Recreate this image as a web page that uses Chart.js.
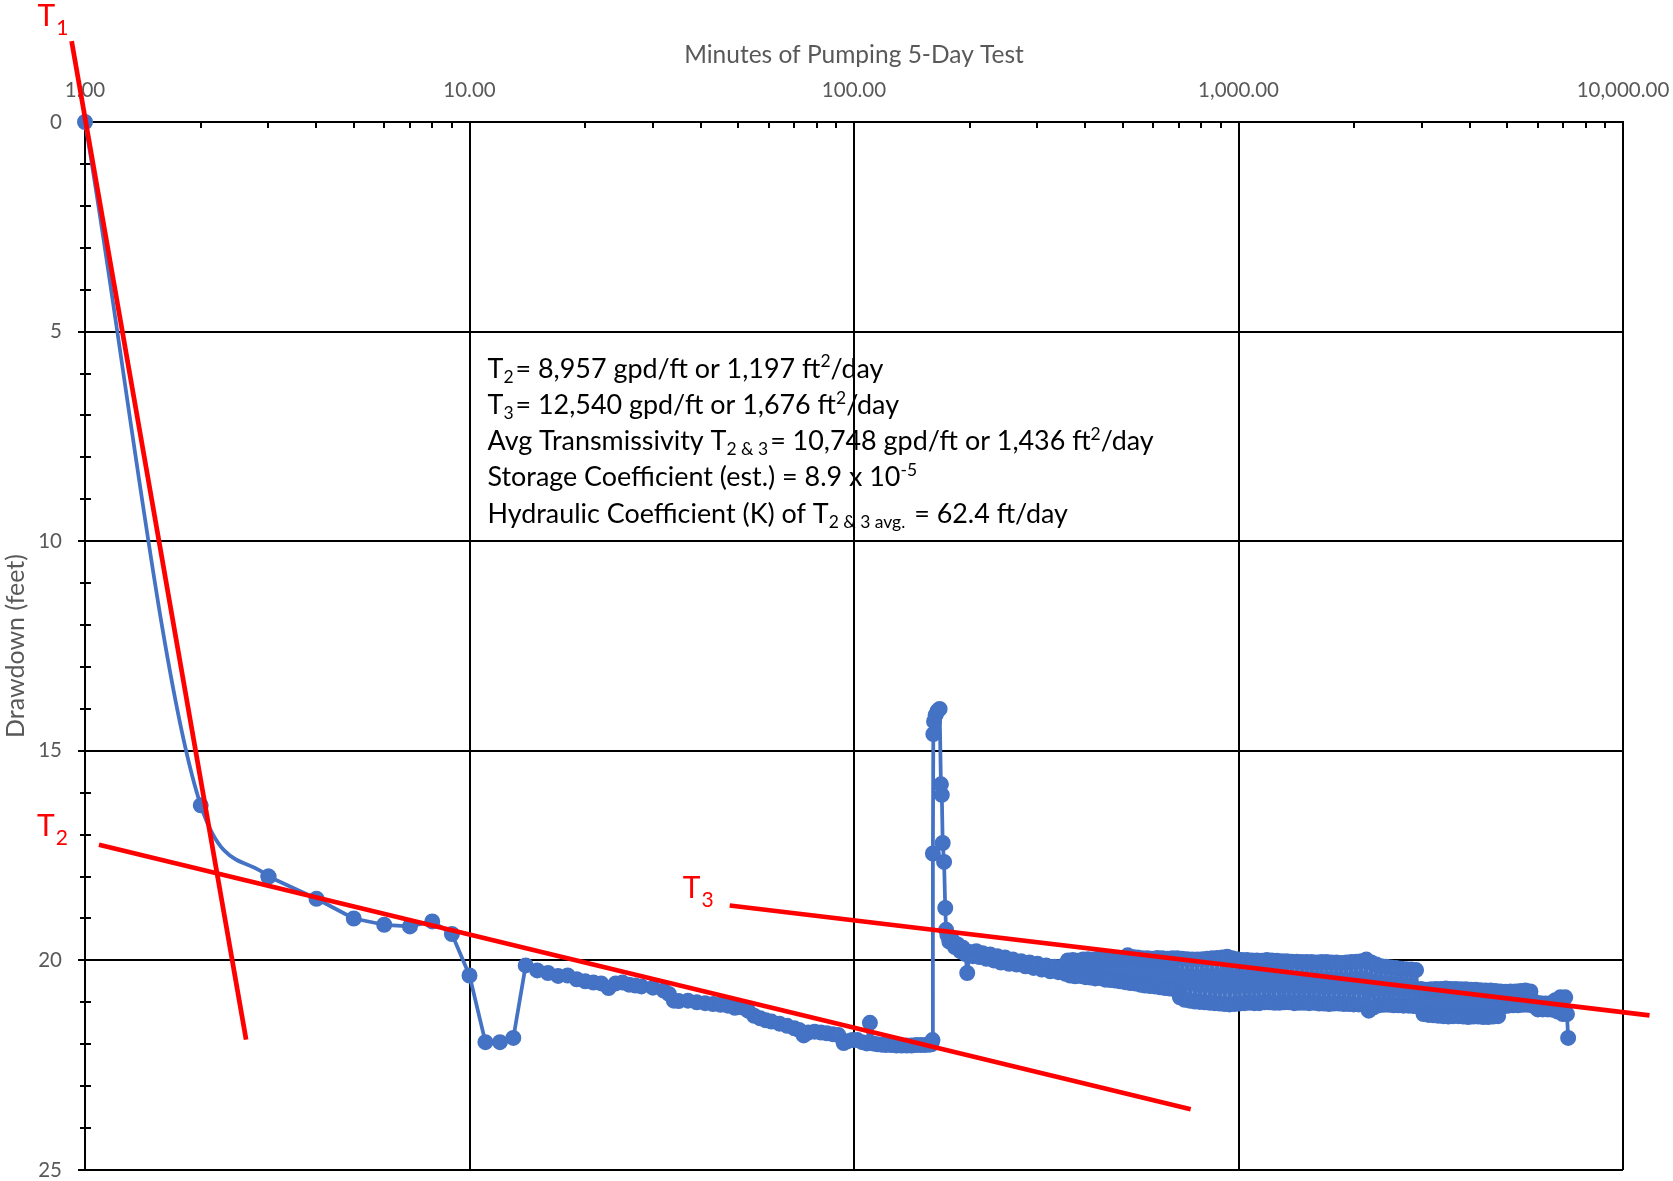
<!DOCTYPE html>
<html>
<head>
<meta charset="utf-8">
<title>Drawdown - 5-Day Pumping Test</title>
<script src="https://cdn.jsdelivr.net/npm/chart.js@4.4.1/dist/chart.umd.min.js"></script>
<style>
  html, body { margin: 0; padding: 0; background: #ffffff; }
  canvas { display: block; }
</style>
</head>
<body>
<canvas id="chart" width="1673" height="1181"></canvas>
<script>
// ---- Observed drawdown (feet) against minutes of pumping ----
const earlyMinutes  = [1, 2, 3, 4, 5, 6, 7, 8, 9, 10, 11, 12, 13];
const earlyDrawdown = [0, 16.3, 18.0, 18.53, 19.0, 19.15, 19.19, 19.07, 19.37, 20.36, 21.95, 21.95, 21.85];

const midMinutes = [
  14, 15, 16, 17, 18, 19, 20, 21, 22, 23, 24, 25, 26, 27, 28,
  30, 32, 33, 34, 35, 37, 39,
  41, 43, 45, 47, 49, 51, 53, 55, 57, 59, 61,
  64, 67, 70, 72, 74, 76, 79, 82, 85, 88, 91, 94, 96, 99,
  102, 105, 108, 110, 112, 115, 118, 121, 125, 129, 133, 137, 141, 145, 149, 153, 157, 159
];
const midDrawdown = [
  20.12, 20.24, 20.3, 20.37, 20.36, 20.45, 20.5, 20.53, 20.55, 20.66, 20.55, 20.53, 20.58, 20.6, 20.62,
  20.65, 20.72, 20.8, 20.96, 20.97, 20.96, 21.0,
  21.02, 21.04, 21.06, 21.08, 21.13, 21.12, 21.2, 21.32, 21.38, 21.43, 21.46,
  21.51, 21.56, 21.62, 21.66, 21.79, 21.72, 21.7, 21.72, 21.74, 21.76, 21.78, 21.97, 21.93, 21.9,
  21.9, 21.95, 21.98, 21.49, 21.98, 22.0, 22.01, 22.02, 22.02, 22.03, 22.03, 22.03, 22.03, 22.02, 22.02, 22.02, 22.01, 22.0
];

const surgeMinutes  = [160, 160.4, 160.8, 161.5, 163, 165, 167, 168.3, 169.2, 170.1, 171.5, 172.7, 173.6];
const surgeDrawdown = [21.9, 17.45, 14.6, 14.3, 14.15, 14.05, 14.0, 15.8, 16.05, 17.2, 17.65, 18.75, 19.27];

const lateMinutes = [
  175, 177, 180, 183, 186, 189, 192, 195, 197, 200,
  204, 208, 212, 216, 221, 226, 231, 236, 241, 247,
  253, 259, 265, 272, 279, 286, 293, 300, 308, 316,
  324, 332, 340, 348, 355,
  360, 365, 371, 376, 382, 388, 394, 400, 406, 412,
  418, 424, 431, 437, 444, 450, 457, 464, 471, 478,
  485, 492, 500, 507, 515, 523, 530, 538, 546, 555,
  563, 571, 580, 589, 597, 606, 615, 625, 634, 644,
  653, 663, 673, 683, 693, 704, 714, 725, 736, 747,
  758, 770, 781, 793, 805, 817, 829, 842, 854, 867,
  880, 893, 907, 920, 934, 948, 962, 977, 991, 1006,
  1021, 1037, 1052, 1068, 1084, 1100, 1117, 1133, 1150, 1168,
  1185, 1203, 1221, 1239, 1258, 1277, 1296, 1315, 1335, 1355,
  1375, 1396, 1417, 1438, 1460, 1481, 1504, 1526, 1549, 1572,
  1596, 1620, 1644, 1669, 1694, 1719, 1745, 1771, 1798, 1825,
  1852, 1880, 1908, 1937, 1966, 1995, 2025, 2056, 2086, 2118,
  2150, 2182, 2215, 2248, 2282, 2316, 2351, 2386, 2422, 2458,
  2495, 2532, 2570, 2609, 2648, 2688, 2728, 2769, 2811, 2853,
  2896, 2939, 2983, 3028, 3074, 3120, 3167, 3214, 3262, 3311,
  3361, 3411, 3463, 3515, 3567, 3621, 3675, 3730, 3786, 3843,
  3901, 3959, 4019, 4079, 4140, 4202, 4265, 4329, 4394, 4460,
  4527, 4595, 4664, 4734, 4805, 4877, 4950, 5024, 5100, 5176,
  5254, 5333, 5413, 5494, 5576, 5660, 5745, 5831, 5918, 6007,
  6097, 6189, 6282, 6376, 6472, 6569, 6667, 6767, 6869, 6972,
  7076, 7150, 7200
];
const lateDrawdown = [
  19.40, 19.55, 19.52, 19.68, 19.62, 19.78, 19.70, 19.85, 20.30, 19.80,
  19.90, 19.78, 19.92, 19.83, 19.96, 19.86, 20.00, 19.90, 20.05, 19.93,
  20.08, 19.98, 20.10, 20.02, 20.14, 20.05, 20.18, 20.08, 20.22, 20.12,
  20.26, 20.15, 20.28, 20.14, 20.32,
  20.00, 20.36, 19.99, 20.38, 20.01, 20.37, 19.98, 20.40, 19.97, 20.41,
  19.98, 20.43, 19.96, 20.42, 19.97, 20.46, 19.95, 20.47, 19.96, 20.48,
  19.94, 20.50, 19.95, 20.52, 19.88, 20.54, 19.92, 20.55, 19.93, 20.58,
  19.95, 20.60, 19.95, 20.61, 19.96, 20.62, 19.94, 20.64, 19.95, 20.66,
  19.96, 20.67, 19.95, 20.69, 19.95, 20.88, 19.96, 20.94, 19.97, 20.96,
  19.98, 20.98, 19.98, 20.99, 19.97, 21.00, 19.96, 21.01, 19.95, 21.02,
  19.94, 21.03, 19.93, 21.04, 19.91, 21.05, 19.95, 21.04, 19.97, 21.03,
  19.99, 21.02, 19.99, 21.01, 20.00, 21.02, 20.00, 21.02, 20.01, 21.00,
  19.99, 21.00, 20.00, 21.01, 20.01, 21.01, 20.02, 21.00, 20.02, 21.00,
  20.03, 21.02, 20.03, 21.01, 20.04, 21.01, 20.04, 21.02, 20.04, 21.01,
  20.05, 21.03, 20.04, 21.03, 20.04, 21.04, 20.05, 21.03, 20.05, 21.03,
  20.06, 21.04, 20.05, 21.04, 20.04, 21.05, 20.03, 21.05, 20.02, 21.06,
  19.98, 21.20, 20.05, 21.12, 20.10, 21.07, 20.14, 21.06, 20.15, 21.06,
  20.17, 21.07, 20.18, 21.07, 20.20, 21.08, 20.21, 21.08, 20.22, 21.09,
  20.23, 21.10, 20.68, 21.28, 20.70, 21.30, 20.69, 21.31, 20.68, 21.32,
  20.68, 21.33, 20.67, 21.34, 20.68, 21.33, 20.68, 21.33, 20.69, 21.34,
  20.69, 21.35, 20.70, 21.34, 20.70, 21.34, 20.71, 21.35, 20.72, 21.35,
  20.72, 21.34, 20.73, 21.33, 20.74, 21.10, 20.75, 21.08, 20.74, 21.07,
  20.74, 21.07, 20.73, 21.06, 20.72, 21.06, 20.74, 21.08, 21.00, 21.17,
  21.02, 21.17, 21.03, 21.17, 21.02, 21.18, 20.95, 21.22, 20.88, 21.28,
  20.88, 21.28, 21.85
];

// ---- Straight-line fits (Cooper-Jacob segments) ----
const t1Minutes = [0.923, 2.624];
const t1Drawdown = [-1.93, 21.89];
const t2Minutes = [1.087, 751];
const t2Drawdown = [17.24, 23.55];
const t3Minutes = [47.5, 11720];
const t3Drawdown = [18.69, 21.31];

// ---- Axis ticks ----
const xTickValues = [1, 10, 100, 1000, 10000];
const yTickValues = [0, 5, 10, 15, 20, 25];

// ---- Result notes ----
const noteLines = [
  [['T'], ['2', 'sub'], ['= 8,957 gpd/ft or 1,197 ft'], ['2', 'sup'], ['/day']],
  [['T'], ['3', 'sub'], ['= 12,540 gpd/ft or 1,676 ft'], ['2', 'sup'], ['/day']],
  [['Avg Transmissivity T'], ['2 & 3', 'sub'], ['= 10,748 gpd/ft or 1,436 ft'], ['2', 'sup'], ['/day']],
  [['Storage Coefficient (est.) = 8.9 x 10'], ['-5', 'sup']],
  [['Hydraulic Coefficient (K) of T'], ['2 & 3 avg.', 'sub'], [' = 62.4 ft/day']]
];

const BLUE = '#4472C4';
const RED = '#FF0000';
const GREY = '#595959';
const FONT = 'Lato';

const toPoints = (xs, ys) => xs.map((x, i) => ({ x: x, y: ys[i] }));

const seriesMinutes = [].concat(earlyMinutes, midMinutes, surgeMinutes, lateMinutes);
const seriesDrawdown = [].concat(earlyDrawdown, midDrawdown, surgeDrawdown, lateDrawdown);

const fitLine = (label, xs, ys) => ({
  label: label,
  data: toPoints(xs, ys),
  borderColor: RED,
  borderWidth: 4.75,
  pointRadius: 0,
  pointHoverRadius: 0,
  tension: 0,
  clip: false,
  order: 0
});

const seriesStyle = {
  borderColor: BLUE,
  backgroundColor: BLUE,
  borderWidth: 3.75,
  borderJoinStyle: 'round',
  borderCapStyle: 'round',
  pointRadius: 7.25,
  pointBorderWidth: 1.5,
  pointBackgroundColor: BLUE,
  pointBorderColor: BLUE,
  clip: false,
  order: 1
};

// small tick marks between the labelled ticks
const minorTicks = {
  id: 'minorTicks',
  beforeDatasetsDraw(chart) {
    const { ctx, chartArea: a, scales: { x, y } } = chart;
    ctx.save();
    ctx.strokeStyle = '#000000';
    ctx.lineWidth = 2;
    ctx.beginPath();
    for (let i = 0; i < xTickValues.length - 1; i++) {
      for (let k = 2; k <= 9; k++) {
        const px = Math.round(x.getPixelForValue(k * xTickValues[i]));
        ctx.moveTo(px, a.top);
        ctx.lineTo(px, a.top + 6);
      }
    }
    for (let v = 1; v < 25; v++) {
      if (v % 5 === 0) continue;
      const py = Math.round(y.getPixelForValue(v));
      ctx.moveTo(a.left - 5, py);
      ctx.lineTo(a.left + 6, py);
    }
    ctx.stroke();
    ctx.restore();
  }
};

function drawRuns(ctx, runs, x, baseline, size, color) {
  let cx = x;
  ctx.fillStyle = color;
  ctx.textAlign = 'left';
  ctx.textBaseline = 'alphabetic';
  for (const [text, kind] of runs) {
    const s = kind ? size * 0.65 : size;
    ctx.font = s + 'px ' + FONT;
    let dy = 0;
    if (kind === 'sub') dy = size * 0.2;
    if (kind === 'sup') dy = -size * 0.38;
    ctx.fillText(text, cx, baseline + dy);
    cx += ctx.measureText(text).width + (kind === 'sub' ? 2 : 0);
  }
}

function drawFitLabel(ctx, digit, px, py) {
  ctx.fillStyle = RED;
  ctx.textAlign = 'left';
  ctx.textBaseline = 'alphabetic';
  ctx.font = '30px ' + FONT;
  ctx.fillText('T', px, py);
  const w = ctx.measureText('T').width;
  ctx.font = '21px ' + FONT;
  ctx.fillText(digit, px + w + 1, py + 9);
}

const annotations = {
  id: 'annotations',
  afterDraw(chart) {
    const { ctx, scales: { x, y } } = chart;
    ctx.save();
    // notes block
    const nx = x.getPixelForValue(11.14);
    const ny = y.getPixelForValue(6.1);
    noteLines.forEach((runs, i) => drawRuns(ctx, runs, nx, ny + i * 36.2, 26.9, '#000000'));
    // fit line labels, placed beside each line's first end
    drawFitLabel(ctx, '1', x.getPixelForValue(t1Minutes[0]) - 34, y.getPixelForValue(t1Drawdown[0]) - 15.5);
    drawFitLabel(ctx, '2', x.getPixelForValue(t2Minutes[0]) - 62, y.getPixelForValue(t2Drawdown[0]) - 8.5);
    drawFitLabel(ctx, '3', x.getPixelForValue(t3Minutes[0]) - 47, y.getPixelForValue(t3Drawdown[0]) - 7);
    ctx.restore();
  }
};

new Chart(document.getElementById('chart'), {
  type: 'line',
  data: {
    datasets: [
      fitLine('T1', t1Minutes, t1Drawdown),
      fitLine('T2', t2Minutes, t2Drawdown),
      fitLine('T3', t3Minutes, t3Drawdown),
      Object.assign({
        label: 'Drawdown (early)',
        data: toPoints(earlyMinutes.slice(0, 3), earlyDrawdown.slice(0, 3)),
        cubicInterpolationMode: 'monotone'
      }, seriesStyle),
      Object.assign({
        label: 'Drawdown',
        data: toPoints(seriesMinutes.slice(2), seriesDrawdown.slice(2)),
        tension: 0
      }, seriesStyle)
    ]
  },
  options: {
    responsive: false,
    animation: false,
    devicePixelRatio: 1,
    events: [],
    layout: { padding: { top: 0, left: 0, right: 50, bottom: 11 } },
    plugins: {
      legend: { display: false },
      tooltip: { enabled: false }
    },
    scales: {
      x: {
        type: 'logarithmic',
        position: 'top',
        min: 1,
        max: 10000,
        afterBuildTicks: (s) => { s.ticks = xTickValues.map(v => ({ value: v })); },
        afterFit: (s) => { s.height = 122; s.paddingLeft = 0; s.paddingRight = 0; },
        grid: { color: '#000000', lineWidth: 2, drawTicks: false },
        border: { color: '#000000', width: 2 },
        ticks: {
          color: GREY,
          font: { family: FONT, size: 20.5 },
          padding: 19,
          maxRotation: 0,
          autoSkip: false,
          callback: (v) => Number(v).toLocaleString('en-US', { minimumFractionDigits: 2, maximumFractionDigits: 2 })
        },
        title: {
          display: true,
          text: 'Minutes of Pumping 5-Day Test',
          color: GREY,
          font: { family: FONT, size: 24.5 },
          padding: { top: 40, bottom: 0 }
        }
      },
      y: {
        type: 'linear',
        position: 'left',
        min: 0,
        max: 25,
        reverse: true,
        afterBuildTicks: (s) => { s.ticks = yTickValues.map(v => ({ value: v })); },
        afterFit: (s) => { s.width = 85; s.paddingTop = 0; s.paddingBottom = 0; },
        grid: { color: '#000000', lineWidth: 2, drawTicks: true, tickLength: 7, tickColor: '#000000', tickWidth: 2 },
        border: { color: '#000000', width: 2 },
        ticks: { color: GREY, font: { family: FONT, size: 20.5 }, padding: 16 },
        title: {
          display: true,
          text: 'Drawdown (feet)',
          color: GREY,
          font: { family: FONT, size: 25 },
          padding: { top: 1, bottom: 0 }
        }
      }
    }
  },
  plugins: [minorTicks, annotations]
});
</script>
</body>
</html>
